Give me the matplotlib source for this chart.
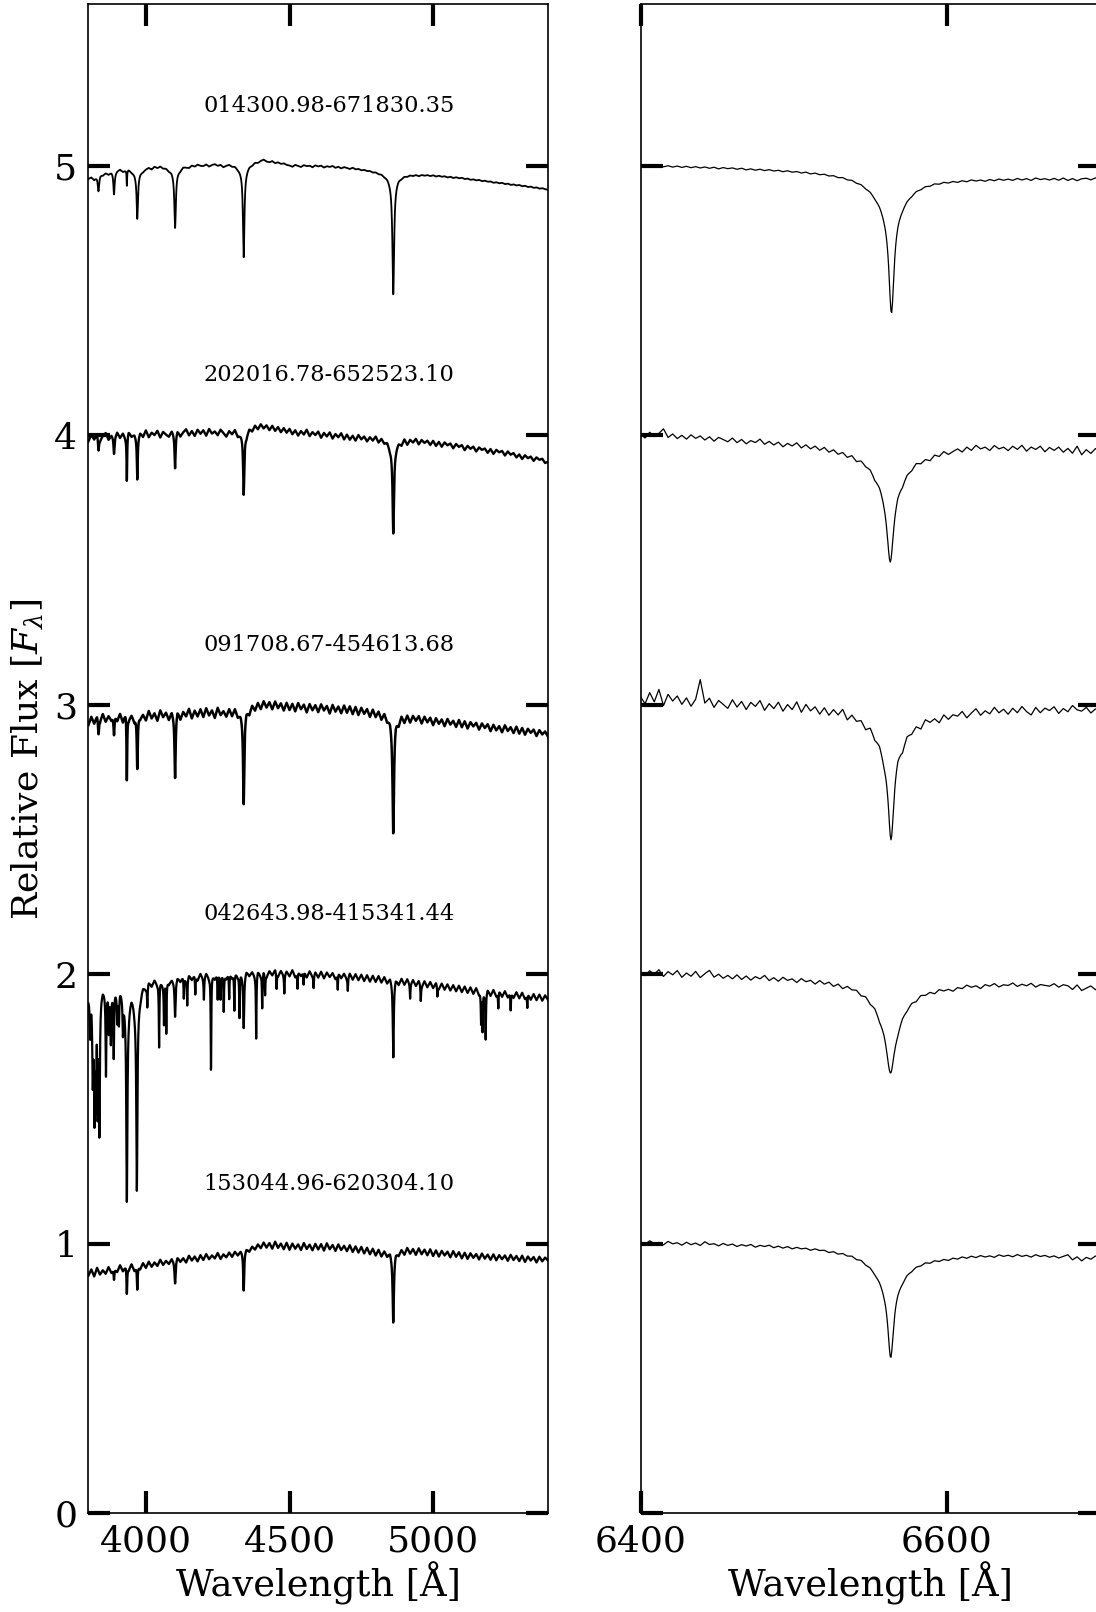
"""
Blue and H-alpha spectra of five stars, stacked with an offset of 1 in relative flux.
Continua are read off the plot on a coarse grid, absorption lines as (center, depth, width).
"""
import numpy as np
import matplotlib.pyplot as plt
from matplotlib.ticker import MultipleLocator

plt.rcParams['font.family'] = 'DejaVu Serif'
plt.rcParams['mathtext.fontset'] = 'dejavuserif'

# ///////////////////////////////////////////////////////////////// data

STAR_NAMES = ['014300.98-671830.35', '202016.78-652523.10', '091708.67-454613.68',
              '042643.98-415341.44', '153044.96-620304.10']
LEVELS = [5, 4, 3, 2, 1]

# blue arm: continuum sampled every 10 A from 3800 to 5400
BLUE_START, BLUE_STOP, BLUE_STEP = 3800, 5400, 10

blue_cont_1 = [
    4.952, 4.958, 4.949, 4.962, 4.970, 4.966, 4.974, 4.969, 4.978, 4.975,
    4.983, 4.989, 4.981, 4.987, 4.992, 4.986, 4.990, 4.984, 4.993, 4.989,
    4.994, 4.998, 4.991, 5.001, 4.996, 5.003, 4.997, 5.000, 4.995, 5.002,
    4.998, 5.004, 4.999, 5.006, 5.001, 4.997, 5.005, 5.000, 5.007, 5.002,
    5.001, 5.007, 4.999, 5.005, 5.008, 5.002, 5.006, 4.998, 5.004, 5.009,
    5.004, 5.008, 5.003, 5.006, 5.011, 5.009, 5.015, 5.012, 5.019, 5.016,
    5.022, 5.026, 5.018, 5.015, 5.019, 5.011, 5.014, 5.008, 5.010, 5.004,
    5.002, 4.997, 5.004, 5.000, 4.996, 5.003, 4.999, 5.001, 4.995, 5.002,
    4.998, 5.001, 4.994, 4.999, 4.996, 5.000, 4.993, 4.997, 4.991, 4.996,
    4.993, 4.989, 4.994, 4.988, 4.990, 4.985, 4.987, 4.983, 4.984, 4.979,
    4.981, 4.976, 4.978, 4.973, 4.975, 4.970, 4.972, 4.969, 4.973, 4.968,
    4.971, 4.967, 4.970, 4.966, 4.969, 4.964, 4.968, 4.965, 4.967, 4.963,
    4.966, 4.961, 4.964, 4.960, 4.962, 4.957, 4.960, 4.955, 4.958, 4.954,
    4.956, 4.951, 4.953, 4.948, 4.950, 4.946, 4.948, 4.943, 4.945, 4.941,
    4.942, 4.937, 4.939, 4.935, 4.937, 4.932, 4.934, 4.929, 4.931, 4.927,
    4.929, 4.924, 4.926, 4.921, 4.923, 4.918, 4.920, 4.915, 4.917, 4.913,
    4.911]
blue_cont_2 = [
    3.978, 4.002, 3.985, 4.006, 3.981, 3.998, 4.009, 3.984, 4.001, 3.990,
    4.012, 3.991, 4.008, 3.987, 4.015, 3.996, 4.004, 3.986, 4.011, 3.995,
    4.019, 3.993, 4.010, 4.001, 4.017, 3.992, 4.013, 4.003, 3.996, 4.018,
    4.004, 4.020, 3.997, 4.012, 4.023, 4.000, 4.016, 3.998, 4.021, 4.006,
    4.019, 3.999, 4.024, 4.007, 4.015, 4.001, 4.022, 4.010, 3.997, 4.018,
    4.008, 4.026, 4.005, 4.019, 4.030, 4.012, 4.034, 4.021, 4.040, 4.025,
    4.043, 4.027, 4.038, 4.020, 4.036, 4.017, 4.031, 4.012, 4.027, 4.010,
    4.024, 4.004, 4.019, 3.999, 4.016, 4.003, 4.021, 3.997, 4.012, 4.001,
    4.014, 3.991, 4.009, 3.996, 4.011, 3.988, 4.005, 3.993, 4.008, 3.985,
    4.003, 3.984, 3.999, 3.981, 4.002, 3.986, 3.997, 3.979, 3.995, 3.983,
    3.999, 3.978, 3.994, 3.980, 3.991, 3.975, 3.996, 3.982, 3.990, 3.974,
    3.993, 3.970, 3.987, 3.976, 3.989, 3.968, 3.984, 3.973, 3.981, 3.965,
    3.980, 3.961, 3.976, 3.958, 3.974, 3.963, 3.970, 3.952, 3.968, 3.957,
    3.964, 3.945, 3.961, 3.950, 3.958, 3.940, 3.955, 3.946, 3.951, 3.935,
    3.949, 3.931, 3.946, 3.937, 3.942, 3.925, 3.940, 3.928, 3.934, 3.918,
    3.929, 3.912, 3.926, 3.915, 3.921, 3.905, 3.918, 3.909, 3.913, 3.897,
    3.902]
blue_cont_3 = [
    2.925, 2.956, 2.931, 2.962, 2.940, 2.967, 2.938, 2.959, 2.944, 2.970,
    2.942, 2.968, 2.937, 2.975, 2.946, 2.963, 2.940, 2.972, 2.951, 2.965,
    2.943, 2.978, 2.950, 2.969, 2.941, 2.980, 2.955, 2.972, 2.946, 2.977,
    2.952, 2.983, 2.948, 2.975, 2.958, 2.986, 2.950, 2.979, 2.957, 2.984,
    2.955, 2.988, 2.961, 2.980, 2.952, 2.990, 2.963, 2.978, 2.958, 2.987,
    2.962, 2.991, 2.965, 2.984, 2.970, 2.998, 2.975, 3.004, 2.983, 3.010,
    2.986, 3.015, 2.991, 3.011, 2.984, 3.013, 2.988, 3.006, 2.979, 3.008,
    2.981, 3.004, 2.976, 3.007, 2.984, 3.001, 2.972, 3.003, 2.980, 2.999,
    2.973, 3.002, 2.979, 2.996, 2.968, 3.000, 2.975, 2.994, 2.969, 2.998,
    2.971, 2.995, 2.966, 2.993, 2.963, 2.990, 2.968, 2.986, 2.957, 2.985,
    2.958, 2.980, 2.952, 2.978, 2.955, 2.973, 2.947, 2.976, 2.944, 2.970,
    2.941, 2.966, 2.938, 2.962, 2.943, 2.960, 2.932, 2.957, 2.936, 2.953,
    2.925, 2.951, 2.930, 2.946, 2.921, 2.948, 2.927, 2.941, 2.918, 2.944,
    2.917, 2.939, 2.912, 2.936, 2.920, 2.933, 2.908, 2.931, 2.914, 2.928,
    2.902, 2.926, 2.905, 2.921, 2.898, 2.924, 2.903, 2.917, 2.895, 2.919,
    2.893, 2.914, 2.889, 2.911, 2.896, 2.908, 2.884, 2.906, 2.890, 2.901,
    2.882]
blue_cont_4 = [
    1.921, 1.945, 1.926, 1.950, 1.932, 1.956, 1.935, 1.951, 1.938, 1.958,
    1.942, 1.966, 1.948, 1.970, 1.951, 1.968, 1.946, 1.972, 1.954, 1.975,
    1.958, 1.981, 1.962, 1.984, 1.965, 1.979, 1.961, 1.988, 1.967, 1.983,
    1.970, 1.992, 1.975, 1.996, 1.978, 1.999, 1.981, 2.001, 1.979, 2.004,
    1.983, 2.006, 1.987, 2.003, 1.985, 2.009, 1.990, 2.005, 1.986, 2.010,
    1.989, 2.012, 1.993, 2.008, 1.991, 2.015, 1.996, 2.011, 1.994, 2.016,
    1.995, 2.017, 1.992, 2.013, 1.997, 2.019, 1.994, 2.014, 1.996, 2.012,
    1.993, 2.016, 1.990, 2.011, 1.995, 2.014, 1.989, 2.012, 1.992, 2.009,
    1.988, 2.010, 1.985, 2.007, 1.990, 2.005, 1.983, 2.008, 1.986, 2.003,
    1.982, 2.004, 1.980, 2.001, 1.978, 1.999, 1.975, 1.997, 1.973, 1.995,
    1.972, 1.994, 1.970, 1.991, 1.968, 1.989, 1.966, 1.987, 1.963, 1.985,
    1.962, 1.983, 1.960, 1.980, 1.957, 1.977, 1.954, 1.975, 1.952, 1.972,
    1.949, 1.969, 1.946, 1.966, 1.943, 1.963, 1.940, 1.960, 1.937, 1.958,
    1.934, 1.955, 1.931, 1.952, 1.928, 1.950, 1.926, 1.948, 1.924, 1.945,
    1.921, 1.943, 1.919, 1.940, 1.917, 1.938, 1.915, 1.936, 1.913, 1.934,
    1.911, 1.932, 1.909, 1.929, 1.906, 1.927, 1.904, 1.925, 1.902, 1.922,
    1.905]
blue_cont_5 = [
    0.882, 0.905, 0.879, 0.911, 0.886, 0.902, 0.889, 0.914, 0.893, 0.908,
    0.896, 0.921, 0.899, 0.917, 0.903, 0.925, 0.901, 0.920, 0.907, 0.929,
    0.911, 0.934, 0.915, 0.931, 0.918, 0.941, 0.922, 0.937, 0.926, 0.945,
    0.929, 0.951, 0.934, 0.947, 0.931, 0.956, 0.938, 0.953, 0.935, 0.958,
    0.940, 0.962, 0.943, 0.957, 0.946, 0.966, 0.944, 0.961, 0.950, 0.968,
    0.952, 0.971, 0.958, 0.975, 0.966, 0.983, 0.972, 0.990, 0.979, 0.998,
    0.984, 1.005, 0.986, 1.003, 0.982, 1.008, 0.985, 1.001, 0.980, 1.004,
    0.978, 1.001, 0.982, 0.998, 0.977, 1.003, 0.981, 0.997, 0.976, 1.000,
    0.979, 0.999, 0.975, 1.002, 0.980, 0.996, 0.974, 0.998, 0.977, 0.993,
    0.973, 0.995, 0.970, 0.991, 0.968, 0.989, 0.965, 0.986, 0.962, 0.983,
    0.958, 0.980, 0.956, 0.977, 0.961, 0.984, 0.963, 0.986, 0.966, 0.983,
    0.963, 0.987, 0.965, 0.982, 0.960, 0.984, 0.962, 0.979, 0.958, 0.980,
    0.955, 0.976, 0.953, 0.974, 0.957, 0.971, 0.950, 0.973, 0.952, 0.969,
    0.946, 0.967, 0.944, 0.965, 0.948, 0.962, 0.942, 0.964, 0.945, 0.960,
    0.941, 0.961, 0.939, 0.958, 0.943, 0.957, 0.937, 0.959, 0.940, 0.955,
    0.936, 0.956, 0.933, 0.953, 0.938, 0.951, 0.931, 0.952, 0.935, 0.949,
    0.938]

# absorption lines (center A, depth, lorentz half-width A)
blue_lines_1 = [(3835, 0.06, 3), (3889, 0.08, 2.5), (3933.7, 0.06, 1), (3970, 0.15, 2.5),
                (4101.7, 0.20, 3), (4340.5, 0.32, 3), (4861.3, 0.42, 3.5),
                (3970, 0.03, 15), (4101.7, 0.03, 20), (4340.5, 0.03, 20), (4861.3, 0.03, 25)]
blue_lines_2 = [(3835, 0.05, 2), (3889, 0.06, 2), (3933.7, 0.17, 1.2), (3970, 0.15, 1.8),
                (4101.7, 0.13, 2.2), (4340.5, 0.23, 2.5), (4861.3, 0.33, 3),
                (4340.5, 0.02, 18), (4861.3, 0.03, 20)]
blue_lines_3 = [(3835, 0.06, 2), (3889, 0.08, 2), (3933.7, 0.25, 1.3), (3970, 0.21, 2),
                (4101.7, 0.23, 2.2), (4340.5, 0.32, 2.5), (4861.3, 0.40, 3),
                (4340.5, 0.02, 18), (4861.3, 0.03, 20)]
blue_lines_4 = [(3806, 0.15, 2), (3815, 0.30, 2), (3821, 0.42, 2), (3826, 0.35, 1.5),
                (3832, 0.40, 1.5), (3838, 0.50, 2), (3861, 0.30, 1.5), (3871, 0.15, 1.5),
                (3878, 0.18, 1.5), (3888, 0.25, 1.5), (3900, 0.10, 1.5), (3906, 0.12, 1.5),
                (3920, 0.12, 1.5), (3933.7, 0.70, 2.2), (3968.5, 0.66, 2.2),
                (3933.7, 0.10, 10), (3968.5, 0.10, 10), (4005, 0.08, 1.2), (4046, 0.24, 1.2),
                (4063, 0.15, 1.2), (4071, 0.20, 1.2), (4101.7, 0.13, 2), (4132, 0.08, 1.2),
                (4144, 0.10, 1.2), (4172, 0.07, 1.2), (4202, 0.08, 1.2), (4226.7, 0.36, 1.2),
                (4250, 0.10, 1.2), (4260, 0.08, 1.2), (4271, 0.14, 1.2), (4290, 0.10, 1.2),
                (4308, 0.14, 1.2), (4326, 0.16, 1.2), (4340.5, 0.19, 2), (4384, 0.24, 1.2),
                (4405, 0.13, 1.2), (4415, 0.08, 1.2), (4455, 0.06, 1.2), (4482, 0.07, 1.2),
                (4528, 0.06, 1.2), (4549, 0.05, 1.2), (4584, 0.05, 1.2), (4668, 0.06, 1.2),
                (4703, 0.05, 1.2), (4861.3, 0.28, 2), (4920, 0.05, 1.2), (4957, 0.06, 1.2),
                (5015, 0.04, 1.2), (5167, 0.12, 1.2), (5172, 0.15, 1.2), (5183, 0.17, 1.2),
                (5227, 0.06, 1.2), (5270, 0.07, 1.2), (5328, 0.05, 1.2)]
blue_lines_5 = [(3889, 0.04, 1.5), (3933.7, 0.10, 1.3), (3970, 0.09, 1.5),
                (4101.7, 0.08, 2), (4340.5, 0.14, 2), (4861.3, 0.24, 2.5),
                (4861.3, 0.02, 15)]

# red arm: continuum sampled every 3 A from 6400 to 6700
RED_START, RED_STOP, RED_STEP = 6400, 6700, 3

red_cont_1 = [
    5.003, 4.998, 5.004, 4.999, 5.002, 4.997, 5.001, 4.996, 5.000, 4.995,
    4.999, 4.994, 4.998, 4.993, 4.997, 4.992, 4.996, 4.990, 4.995, 4.991,
    4.994, 4.989, 4.993, 4.987, 4.991, 4.986, 4.990, 4.985, 4.989, 4.984,
    4.987, 4.982, 4.986, 4.981, 4.984, 4.979, 4.983, 4.977, 4.981, 4.976,
    4.979, 4.974, 4.977, 4.972, 4.975, 4.970, 4.973, 4.968, 4.971, 4.966,
    4.969, 4.964, 4.967, 4.962, 4.965, 4.960, 4.963, 4.958, 4.961, 4.956,
    4.959, 4.954, 4.957, 4.952, 4.956, 4.951, 4.955, 4.950, 4.954, 4.949,
    4.954, 4.949, 4.955, 4.950, 4.953, 4.948, 4.954, 4.949, 4.955, 4.950,
    4.954, 4.949, 4.956, 4.950, 4.955, 4.948, 4.957, 4.951, 4.954, 4.949,
    4.955, 4.948, 4.956, 4.947, 4.954, 4.946, 4.953, 4.955, 4.949, 4.956,
    4.950]
red_cont_2 = [
    4.004, 3.991, 4.012, 3.996, 4.008, 4.025, 3.993, 4.006, 3.989, 4.001,
    3.987, 4.003, 3.990, 3.999, 3.984, 3.996, 3.980, 3.994, 3.986, 3.978,
    3.992, 3.975, 3.987, 3.971, 3.983, 3.976, 3.989, 3.970, 3.981, 3.968,
    3.979, 3.962, 3.975, 3.966, 3.978, 3.960, 3.972, 3.958, 3.969, 3.955,
    3.967, 3.951, 3.962, 3.948, 3.958, 3.944, 3.956, 3.941, 3.953, 3.945,
    3.951, 3.938, 3.949, 3.942, 3.947, 3.940, 3.950, 3.936, 3.948, 3.941,
    3.952, 3.939, 3.946, 3.935, 3.951, 3.942, 3.957, 3.944, 3.953, 3.961,
    3.948, 3.965, 3.952, 3.970, 3.956, 3.962, 3.949, 3.967, 3.954, 3.960,
    3.947, 3.963, 3.951, 3.966, 3.944, 3.959, 3.950, 3.962, 3.941, 3.957,
    3.946, 3.958, 3.939, 3.953, 3.935, 3.961, 3.929, 3.948, 3.934, 3.952,
    3.940]
red_cont_3 = [
    3.031, 3.005, 3.046, 3.012, 3.058, 2.998, 3.040, 3.015, 3.034, 3.003,
    3.027, 2.996, 3.022, 3.095, 3.008, 3.026, 2.992, 3.018, 3.003, 2.989,
    3.021, 2.994, 3.015, 2.985, 3.012, 2.997, 3.019, 2.983, 3.008, 2.990,
    3.014, 2.981, 3.006, 2.988, 3.017, 2.979, 3.009, 2.986, 3.002, 2.976,
    3.001, 2.975, 2.998, 2.981, 3.005, 2.970, 2.993, 2.977, 2.989, 2.968,
    2.992, 2.971, 2.986, 2.964, 2.983, 2.975, 2.990, 2.961, 2.985, 2.969,
    2.979, 2.958, 2.983, 2.966, 2.974, 2.955, 2.981, 2.962, 2.977, 2.970,
    2.986, 2.961, 2.978, 2.993, 2.968, 2.984, 2.972, 2.996, 2.975, 2.988,
    2.969, 2.991, 2.974, 2.997, 2.978, 2.965, 2.993, 2.973, 2.990, 2.981,
    2.995, 2.970, 2.988, 2.976, 2.999, 2.983, 2.978, 2.992, 2.971, 2.986,
    2.980]
red_cont_4 = [
    2.009, 1.996, 2.014, 2.001, 2.018, 1.993, 2.011, 1.999, 2.015, 1.990,
    2.006, 1.994, 2.012, 1.989, 2.004, 2.016, 1.991, 2.002, 1.987, 1.998,
    1.985, 2.000, 1.983, 1.996, 1.981, 1.994, 1.986, 1.999, 1.980, 1.991,
    1.978, 1.993, 1.982, 1.988, 1.975, 1.990, 1.979, 1.985, 1.972, 1.986,
    1.974, 1.983, 1.969, 1.980, 1.966, 1.978, 1.970, 1.975, 1.963, 1.972,
    1.961, 1.970, 1.958, 1.966, 1.960, 1.968, 1.955, 1.964, 1.957, 1.962,
    1.952, 1.963, 1.955, 1.960, 1.950, 1.962, 1.954, 1.958, 1.949, 1.961,
    1.956, 1.968, 1.959, 1.964, 1.953, 1.967, 1.961, 1.970, 1.957, 1.965,
    1.962, 1.971, 1.958, 1.966, 1.960, 1.969, 1.955, 1.964, 1.961, 1.958,
    1.967, 1.954, 1.963, 1.959, 1.945, 1.962, 1.941, 1.950, 1.958, 1.944,
    1.953]
red_cont_5 = [
    1.008, 0.999, 1.012, 1.002, 1.006, 0.997, 1.010, 1.001, 1.005, 0.996,
    1.007, 0.998, 1.004, 0.995, 1.009, 0.999, 1.002, 0.994, 1.003, 0.996,
    1.001, 0.992, 0.999, 0.994, 1.000, 0.990, 0.997, 0.993, 0.998, 0.989,
    0.995, 0.988, 0.994, 0.986, 0.992, 0.987, 0.990, 0.983, 0.989, 0.984,
    0.986, 0.979, 0.984, 0.977, 0.982, 0.976, 0.980, 0.973, 0.978, 0.971,
    0.975, 0.969, 0.972, 0.966, 0.970, 0.964, 0.967, 0.961, 0.965, 0.959,
    0.962, 0.956, 0.960, 0.953, 0.958, 0.952, 0.957, 0.951, 0.958, 0.953,
    0.960, 0.954, 0.961, 0.955, 0.962, 0.956, 0.960, 0.954, 0.963, 0.957,
    0.961, 0.955, 0.963, 0.956, 0.960, 0.953, 0.962, 0.955, 0.959, 0.952,
    0.957, 0.949, 0.955, 0.961, 0.942, 0.953, 0.938, 0.951, 0.944, 0.956,
    0.948]

# H-alpha: narrow core + broad wings
red_lines_1 = [(6563.8, 0.37, 2.0), (6563.8, 0.14, 12)]
red_lines_2 = [(6563.0, 0.26, 2.5), (6563.0, 0.155, 12)]
red_lines_3 = [(6563.5, 0.32, 2.2), (6563.5, 0.16, 12)]
red_lines_4 = [(6563.3, 0.17, 3.0), (6563.3, 0.16, 11)]
red_lines_5 = [(6563.3, 0.26, 2.2), (6563.3, 0.13, 12)]

blue_conts = [blue_cont_1, blue_cont_2, blue_cont_3, blue_cont_4, blue_cont_5]
blue_lines = [blue_lines_1, blue_lines_2, blue_lines_3, blue_lines_4, blue_lines_5]
red_conts = [red_cont_1, red_cont_2, red_cont_3, red_cont_4, red_cont_5]
red_lines = [red_lines_1, red_lines_2, red_lines_3, red_lines_4, red_lines_5]

# the noisier blue spectra look like a thicker band
BLUE_LW = [1.3, 1.7, 1.8, 1.6, 1.7]


def spectrum(start, stop, step, cont, lines):
    knots = np.arange(start, stop + step / 2, step)
    wave = np.arange(start, stop + 0.25, 0.5)
    flux = np.interp(wave, knots, cont)
    for center, depth, width in lines:
        flux = flux - depth / (1 + ((wave - center) / width) ** 2)
    return wave, flux


# ///////////////////////////////////////////////////////////////// figure

fig = plt.figure(figsize=(10.96, 16.12), dpi=100)
ax_b = fig.add_axes([0.0807, 0.0612, 0.4193, 0.9363])
ax_r = fig.add_axes([0.5844, 0.0612, 0.4193, 0.9363])

for name, level, bc, bl, rc, rl, lw in zip(STAR_NAMES, LEVELS, blue_conts, blue_lines,
                                           red_conts, red_lines, BLUE_LW):
    w, f = spectrum(BLUE_START, BLUE_STOP, BLUE_STEP, bc, bl)
    ax_b.plot(w, f, color='black', lw=lw)
    w, f = spectrum(RED_START, RED_STOP, RED_STEP, rc, rl)
    ax_r.plot(w, f, color='black', lw=0.9)
    ax_b.text(4200, level + 0.2, name, fontsize=16.2)

ax_b.set_xlim(3800, 5400)
ax_r.set_xlim(6400, 6700)
for ax in (ax_b, ax_r):
    ax.set_ylim(0, 5.6)
    ax.yaxis.set_major_locator(MultipleLocator(1))
    ax.tick_params(axis='both', which='major', direction='in', length=16, width=3,
                   top=True, right=True, labelsize=26, pad=8)
    ax.tick_params(axis='both', which='minor', length=0)
    for sp in ax.spines.values():
        sp.set_linewidth(1.2)
    ax.set_xlabel('Wavelength [Å]', fontsize=26.5, labelpad=2)

ax_b.xaxis.set_major_locator(MultipleLocator(500))
ax_r.xaxis.set_major_locator(MultipleLocator(200))
ax_r.tick_params(axis='y', labelleft=False)
ax_b.set_ylabel(r'Relative Flux [$F_\lambda$]', fontsize=26, labelpad=6)

fig.savefig('out.png', dpi=100)
